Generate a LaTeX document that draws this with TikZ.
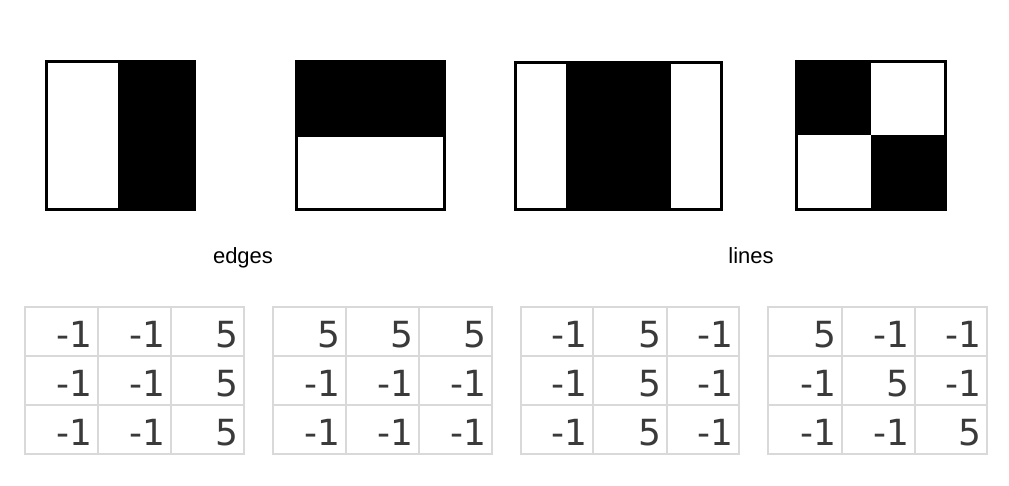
\documentclass[tikz,border=0pt]{standalone}
\usepackage{fontspec}
\setmainfont{Liberation Sans}
\newfontfamily\numfont{DejaVu Sans}
\definecolor{gridgray}{HTML}{D9D9D9}
\definecolor{numgray}{HTML}{3A3A3A}
\tikzset{
  frame/.style={draw=black, line width=3pt},
  blk/.style={fill=black},
  gridline/.style={draw=gridgray, line width=2pt},
  num/.style={anchor=base east, inner sep=0pt, text=numgray, font=\numfont\fontsize{36}{36}\selectfont},
  lbl/.style={anchor=base, inner sep=0pt, font=\fontsize{22}{22}\selectfont}
}
\begin{document}
\begin{tikzpicture}[x=1pt,y=-1pt]
\useasboundingbox (0,0) rectangle (1009,485);
% --- pattern 1: white | black
\fill[blk] (118,61.5) rectangle (194.2,209.5);
\draw[frame] (46.5,61.5) rectangle (194.2,209.5);
% --- pattern 2: black over white
\fill[blk] (296.5,61.5) rectangle (444.5,137);
\draw[frame] (296.5,61.5) rectangle (444.5,209.5);
% --- pattern 3: white | black | white
\fill[blk] (566,62.5) rectangle (671,209.5);
\draw[frame] (515.5,62.5) rectangle (721.5,209.5);
% --- pattern 4: checker
\fill[blk] (796.5,61.5) rectangle (871,135);
\fill[blk] (871,135) rectangle (945.5,209.5);
\draw[frame] (796.5,61.5) rectangle (945.5,209.5);
% labels
\node[lbl] (edges) at (243,263) {edges};
\node[lbl] (lines) at (751,263) {lines};
% tables
\foreach \tn/\xa/\xb/\xc/\xd/\vals in {
  1/25/98/171/244/{-1,-1,5,-1,-1,5,-1,-1,5},
  2/273/346/419/492/{5,5,5,-1,-1,-1,-1,-1,-1},
  3/521/593/667/739/{-1,5,-1,-1,5,-1,-1,5,-1},
  4/768/842/915/987/{5,-1,-1,-1,5,-1,-1,-1,5}}{
  \draw[gridline] (\xa,307) rectangle (\xd,454);
  \draw[gridline] (\xb,307) -- (\xb,454);
  \draw[gridline] (\xc,307) -- (\xc,454);
  \draw[gridline] (\xa,356) -- (\xd,356);
  \draw[gridline] (\xa,405) -- (\xd,405);
  \foreach \v [count=\i from 0] in \vals {
    \pgfmathtruncatemacro{\r}{int(\i/3)}
    \pgfmathtruncatemacro{\c}{mod(\i,3)}
    \ifcase\c \edef\xr{\xb}\or \edef\xr{\xc}\else \edef\xr{\xd}\fi
    \node[num] (t\tn-\r-\c) at ({\xr-5},{347+49*\r}) {\v};
  }
}
\end{tikzpicture}
\end{document}
